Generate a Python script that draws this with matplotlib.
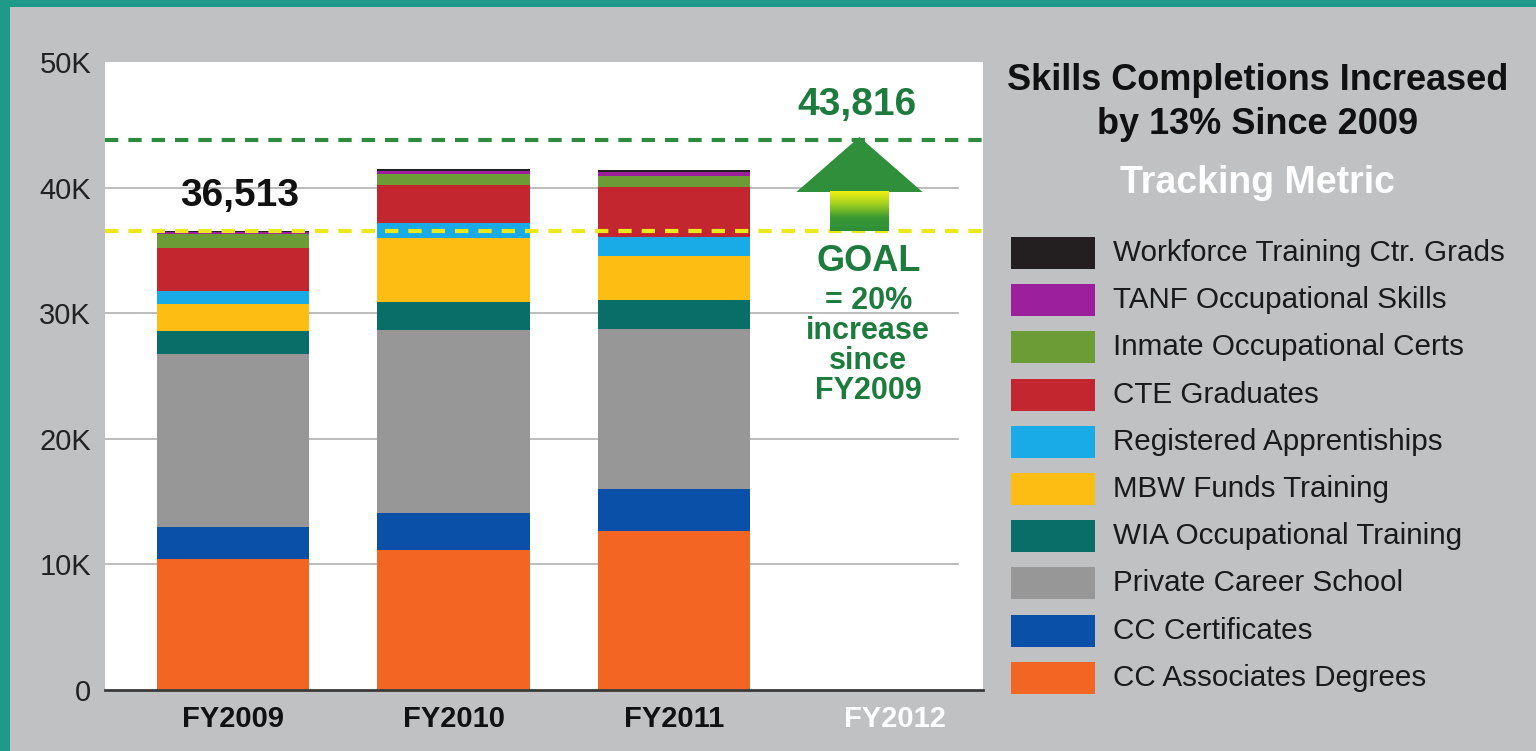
import matplotlib.pyplot as plt
import numpy as np
from matplotlib.patches import Rectangle, Polygon
from matplotlib.colors import LinearSegmentedColormap

plt.rcParams['font.family'] = ['Liberation Sans', 'DejaVu Sans']

years = ['FY2009', 'FY2010', 'FY2011', 'FY2012']

# stacked from bottom to top
cc_associates = [10430, 11150, 12660, 0]
cc_certificates = [2550, 2940, 3340, 0]
private_career = [13770, 14570, 12740, 0]
wia_training = [1860, 2260, 2310, 0]
mbw_funds = [2120, 5040, 3530, 0]
registered_appr = [1040, 1200, 1510, 0]
cte_grads = [3400, 3050, 3980, 0]
inmate_certs = [1130, 870, 880, 0]
tanf_skills = [150, 240, 270, 0]
workforce_grads = [63, 160, 180, 0]

series = [
    ('CC Associates Degrees', cc_associates, '#f26522'),
    ('CC Certificates', cc_certificates, '#0a50a8'),
    ('Private Career School', private_career, '#979797'),
    ('WIA Occupational Training', wia_training, '#0a6e68'),
    ('MBW Funds Training', mbw_funds, '#fdbd12'),
    ('Registered Apprentiships', registered_appr, '#19aae8'),
    ('CTE Graduates', cte_grads, '#c3262e'),
    ('Inmate Occupational Certs', inmate_certs, '#6c9c35'),
    ('TANF Occupational Skills', tanf_skills, '#9c1f9e'),
    ('Workforce Training Ctr. Grads', workforce_grads, '#231f20'),
]

baseline = 36513
goal = 43816
yticks = [0, 10000, 20000, 30000, 40000, 50000]
ytick_labels = ['0', '10K', '20K', '30K', '40K', '50K']

bg = '#c0c1c3'
green = '#1e7b3e'

fig = plt.figure(figsize=(15.36, 7.51), dpi=100, facecolor=bg)
# teal frame
fig.add_artist(Rectangle((0, 1 - 7 / 751), 1, 7 / 751, transform=fig.transFigure, color='#1f9a88', lw=0))
fig.add_artist(Rectangle((0, 0), 10 / 1536, 1, transform=fig.transFigure, color='#1f9a88', lw=0))

ax = fig.add_axes([105 / 1536, 1 - 690 / 751, (983 - 105) / 1536, (690 - 62) / 751])
ax.set_facecolor('white')

x = np.arange(len(years))
bottom = np.zeros(len(years))
for name, vals, col in series:
    ax.bar(x, vals, width=0.69, bottom=bottom, color=col, linewidth=0, zorder=3)
    bottom += np.array(vals)

for y in yticks[1:-1]:
    ax.axhline(y, xmax=0.971, color='#b0b0b0', lw=1.2, zorder=1)

ax.axhline(goal, color='#2e8b3e', lw=3, ls=(0, (3.2, 2.4)), zorder=4)
ax.axhline(baseline, color='#ece81a', lw=3, ls=(0, (3.2, 2.4)), zorder=4)

# goal arrow
ax_x = 2.84
head = Polygon([[ax_x - 0.286, 39650], [ax_x, 44030], [ax_x + 0.286, 39650]],
               closed=True, color='#2f8f3a', lw=0, zorder=5)
ax.add_patch(head)
grad = np.linspace(0, 1, 100).reshape(-1, 1)
cmap = LinearSegmentedColormap.from_list('g', ['#2f8f3a', '#3a9a34', '#9fcf20', '#eef010'])
ax.imshow(grad, extent=[ax_x - 0.132, ax_x + 0.132, 39660, baseline], cmap=cmap,
          aspect='auto', origin='upper', zorder=5)

ax.set_xlim(-0.58, 3.40)
ax.set_ylim(0, 50000)

ax.text(0.03, 39330, f'{baseline:,}', ha='center', va='center', fontsize=28, fontweight='bold', color='#111111', zorder=6)
ax.text(2.83, 46580, f'{goal:,}', ha='center', va='center', fontsize=28, fontweight='bold', color=green, zorder=6)
ax.text(2.88, 34080, 'GOAL', ha='center', va='center', fontsize=26, fontweight='bold', color=green)
for yy, t in zip([30970, 28580, 26190, 23800], ['= 20%', 'increase', 'since', 'FY2009']):
    ax.text(2.88, yy, t, ha='center', va='center', fontsize=22, fontweight='bold', color=green)

ax.set_yticks(yticks)
ax.set_yticklabels(ytick_labels, fontsize=21, color='#222222')
ax.set_xticks(x)
ax.set_xticklabels(years, fontsize=21, fontweight='bold', color='#111111')
ax.get_xticklabels()[-1].set_color('white')
ax.tick_params(axis='y', length=0, pad=10)
ax.tick_params(axis='x', length=0, pad=11)
for s in ['top', 'right', 'left']:
    ax.spines[s].set_visible(False)
ax.spines['bottom'].set_color('#3a3a3a')
ax.spines['bottom'].set_linewidth(2)
ax.spines['bottom'].set_zorder(6)

# title block
fig.text(1258 / 1536, 1 - 80 / 751, 'Skills Completions Increased', ha='center', va='center',
         fontsize=26, fontweight='bold', color='#111111')
fig.text(1258 / 1536, 1 - 125 / 751, 'by 13% Since 2009', ha='center', va='center',
         fontsize=26, fontweight='bold', color='#111111')
fig.text(1258 / 1536, 1 - 183 / 751, 'Tracking Metric', ha='center', va='center',
         fontsize=27, fontweight='bold', color='white')

# legend, top entry is last series
for i, (name, vals, col) in enumerate(series[::-1]):
    yc = 253 + i * 47.2
    fig.add_artist(Rectangle((1011 / 1536, 1 - (yc + 16) / 751), 84 / 1536, 32 / 751,
                             transform=fig.transFigure, color=col, lw=0))
    fig.text(1113 / 1536, 1 - yc / 751, name, ha='left', va='center', fontsize=21.3, color='#1a1a1a')

fig.savefig('out.png', dpi=100, facecolor=bg)
